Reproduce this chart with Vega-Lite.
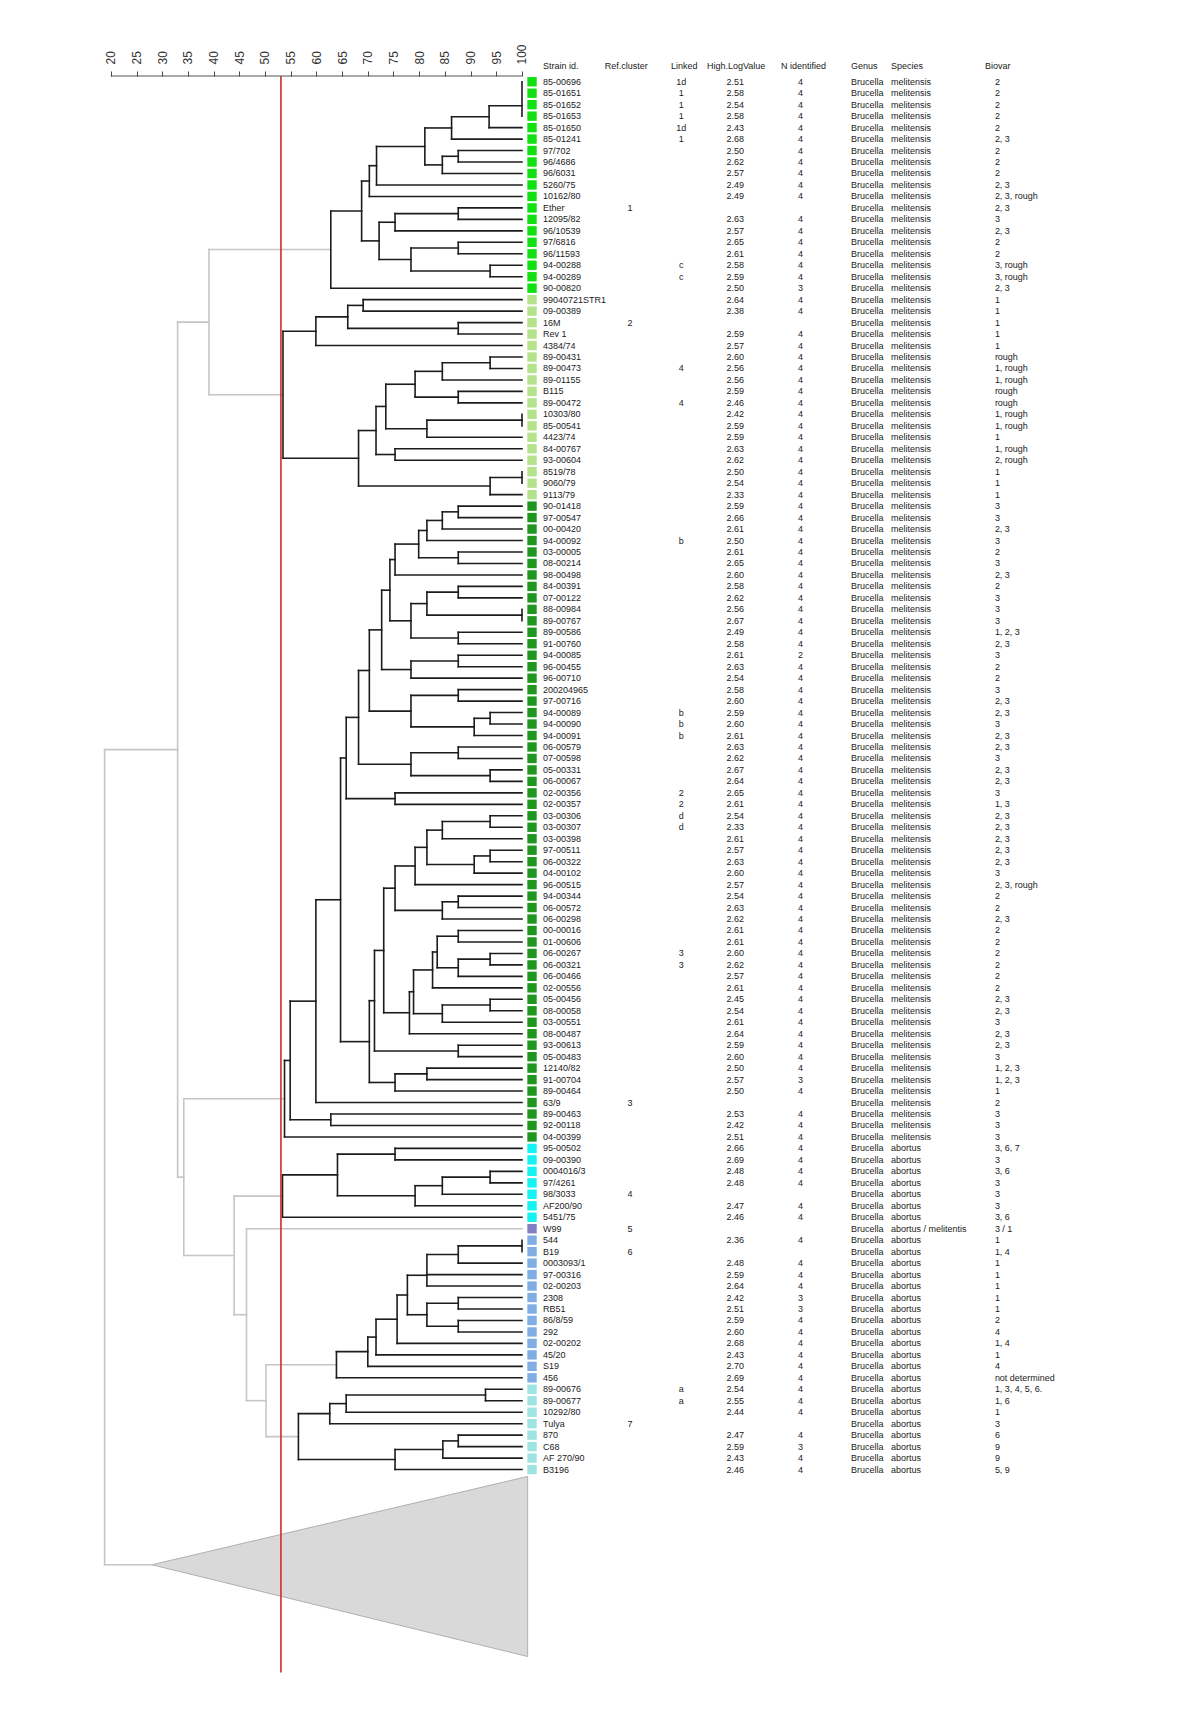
{
"$schema":"https://vega.github.io/schema/vega-lite/v6.json",
"width":1130.8,"height":1611.5,
"autosize":"none",
"padding":{"left":8,"top":76,"right":0,"bottom":0},
"background":"white",
"resolve":{"scale":{"color":"independent"}},
"config":{"view":{"stroke":null},"text":{"font":"Liberation Sans","fontSize":9,"color":"#1a1a1a","baseline":"middle"}},
"datasets":{
"segs":[
{"x":39.1,"x2":62.8,"y":14.63,"y2":14.63,"c":"g"},
{"x":39.1,"x2":39.1,"y":14.63,"y2":27.29,"c":"g"},
{"x":39.1,"x2":53.5,"y":27.29,"y2":27.29,"c":"g"},
{"x":34.2,"x2":53.8,"y":88.67,"y2":88.67,"c":"g"},
{"x":44,"x2":53.4,"y":97.16,"y2":97.16,"c":"g"},
{"x":46.4,"x2":100,"y":100,"y2":100,"c":"g"},
{"x":50.2,"x2":63.9,"y":111.86,"y2":111.86,"c":"g"},
{"x":50.2,"x2":56.5,"y":118.125,"y2":118.125,"c":"g"},
{"x":50.2,"x2":50.2,"y":111.86,"y2":118.125,"c":"g"},
{"x":46.4,"x2":46.4,"y":100,"y2":114.99,"c":"g"},
{"x":46.4,"x2":50.2,"y":114.99,"y2":114.99,"c":"g"},
{"x":44,"x2":44,"y":97.16,"y2":107.5,"c":"g"},
{"x":44,"x2":46.4,"y":107.5,"y2":107.5,"c":"g"},
{"x":34.2,"x2":34.2,"y":88.67,"y2":102.33,"c":"g"},
{"x":34.2,"x2":44,"y":102.33,"y2":102.33,"c":"g"},
{"x":33,"x2":33,"y":20.96,"y2":95.5,"c":"g"},
{"x":33,"x2":39.1,"y":20.96,"y2":20.96,"c":"g"},
{"x":33,"x2":34.2,"y":95.5,"y2":95.5,"c":"g"},
{"x":18.8,"x2":18.8,"y":58.23,"y2":129.3,"c":"g"},
{"x":18.8,"x2":33,"y":58.23,"y2":58.23,"c":"g"},
{"x":18.8,"x2":28,"y":129.3,"y2":129.3,"c":"g"},

{"x":100,"x2":100,"y":0,"y2":3,"c":"k"},
{"x":93.6,"x2":93.6,"y":2.1,"y2":4,"c":"k"},
{"x":93.6,"x2":100,"y":2.1,"y2":2.1,"c":"k"},
{"x":93.6,"x2":100,"y":4,"y2":4,"c":"k"},
{"x":86.3,"x2":86.3,"y":3.05,"y2":5,"c":"k"},
{"x":86.3,"x2":93.6,"y":3.05,"y2":3.05,"c":"k"},
{"x":86.3,"x2":100,"y":5,"y2":5,"c":"k"},
{"x":87.6,"x2":87.6,"y":6,"y2":7,"c":"k"},
{"x":87.6,"x2":100,"y":6,"y2":6,"c":"k"},
{"x":87.6,"x2":100,"y":7,"y2":7,"c":"k"},
{"x":84.5,"x2":84.5,"y":6.5,"y2":8,"c":"k"},
{"x":84.5,"x2":87.6,"y":6.5,"y2":6.5,"c":"k"},
{"x":84.5,"x2":100,"y":8,"y2":8,"c":"k"},
{"x":81.1,"x2":81.1,"y":4.03,"y2":7.25,"c":"k"},
{"x":81.1,"x2":86.3,"y":4.03,"y2":4.03,"c":"k"},
{"x":81.1,"x2":84.5,"y":7.25,"y2":7.25,"c":"k"},
{"x":71.7,"x2":71.7,"y":5.64,"y2":9,"c":"k"},
{"x":71.7,"x2":81.1,"y":5.64,"y2":5.64,"c":"k"},
{"x":71.7,"x2":100,"y":9,"y2":9,"c":"k"},
{"x":70.3,"x2":70.3,"y":7.32,"y2":10,"c":"k"},
{"x":70.3,"x2":71.7,"y":7.32,"y2":7.32,"c":"k"},
{"x":70.3,"x2":100,"y":10,"y2":10,"c":"k"},
{"x":87.6,"x2":87.6,"y":11,"y2":12,"c":"k"},
{"x":87.6,"x2":100,"y":11,"y2":11,"c":"k"},
{"x":87.6,"x2":100,"y":12,"y2":12,"c":"k"},
{"x":75.3,"x2":75.3,"y":11.5,"y2":13,"c":"k"},
{"x":75.3,"x2":87.6,"y":11.5,"y2":11.5,"c":"k"},
{"x":75.3,"x2":100,"y":13,"y2":13,"c":"k"},
{"x":87.6,"x2":87.6,"y":14,"y2":15,"c":"k"},
{"x":87.6,"x2":100,"y":14,"y2":14,"c":"k"},
{"x":87.6,"x2":100,"y":15,"y2":15,"c":"k"},
{"x":93.8,"x2":93.8,"y":16,"y2":17,"c":"k"},
{"x":93.8,"x2":100,"y":16,"y2":16,"c":"k"},
{"x":93.8,"x2":100,"y":17,"y2":17,"c":"k"},
{"x":78.4,"x2":78.4,"y":14.5,"y2":16.5,"c":"k"},
{"x":78.4,"x2":87.6,"y":14.5,"y2":14.5,"c":"k"},
{"x":78.4,"x2":93.8,"y":16.5,"y2":16.5,"c":"k"},
{"x":72.2,"x2":72.2,"y":12.25,"y2":15.5,"c":"k"},
{"x":72.2,"x2":75.3,"y":12.25,"y2":12.25,"c":"k"},
{"x":72.2,"x2":78.4,"y":15.5,"y2":15.5,"c":"k"},
{"x":68.8,"x2":68.8,"y":8.66,"y2":13.875,"c":"k"},
{"x":68.8,"x2":70.3,"y":8.66,"y2":8.66,"c":"k"},
{"x":68.8,"x2":72.2,"y":13.875,"y2":13.875,"c":"k"},
{"x":62.8,"x2":62.8,"y":11.27,"y2":18,"c":"k"},
{"x":62.8,"x2":68.8,"y":11.27,"y2":11.27,"c":"k"},
{"x":62.8,"x2":100,"y":18,"y2":18,"c":"k"},

{"x":69.1,"x2":69.1,"y":19,"y2":20,"c":"k"},
{"x":69.1,"x2":100,"y":19,"y2":19,"c":"k"},
{"x":69.1,"x2":100,"y":20,"y2":20,"c":"k"},
{"x":87.6,"x2":87.6,"y":21,"y2":22,"c":"k"},
{"x":87.6,"x2":100,"y":21,"y2":21,"c":"k"},
{"x":87.6,"x2":100,"y":22,"y2":22,"c":"k"},
{"x":66.1,"x2":66.1,"y":19.5,"y2":21.5,"c":"k"},
{"x":66.1,"x2":69.1,"y":19.5,"y2":19.5,"c":"k"},
{"x":66.1,"x2":87.6,"y":21.5,"y2":21.5,"c":"k"},
{"x":59.9,"x2":59.9,"y":20.5,"y2":23,"c":"k"},
{"x":59.9,"x2":66.1,"y":20.5,"y2":20.5,"c":"k"},
{"x":59.9,"x2":100,"y":23,"y2":23,"c":"k"},
{"x":93.8,"x2":93.8,"y":24,"y2":25,"c":"k"},
{"x":93.8,"x2":100,"y":24,"y2":24,"c":"k"},
{"x":93.8,"x2":100,"y":25,"y2":25,"c":"k"},
{"x":84.5,"x2":84.5,"y":24.5,"y2":26,"c":"k"},
{"x":84.5,"x2":93.8,"y":24.5,"y2":24.5,"c":"k"},
{"x":84.5,"x2":100,"y":26,"y2":26,"c":"k"},
{"x":87.6,"x2":87.6,"y":27,"y2":28,"c":"k"},
{"x":87.6,"x2":100,"y":27,"y2":27,"c":"k"},
{"x":87.6,"x2":100,"y":28,"y2":28,"c":"k"},
{"x":79.2,"x2":79.2,"y":25.25,"y2":27.5,"c":"k"},
{"x":79.2,"x2":84.5,"y":25.25,"y2":25.25,"c":"k"},
{"x":79.2,"x2":87.6,"y":27.5,"y2":27.5,"c":"k"},
{"x":100,"x2":100,"y":29,"y2":30,"c":"k"},
{"x":81.5,"x2":81.5,"y":29.5,"y2":31,"c":"k"},
{"x":81.5,"x2":100,"y":29.5,"y2":29.5,"c":"k"},
{"x":81.5,"x2":100,"y":31,"y2":31,"c":"k"},
{"x":73.5,"x2":73.5,"y":26.375,"y2":30.25,"c":"k"},
{"x":73.5,"x2":79.2,"y":26.375,"y2":26.375,"c":"k"},
{"x":73.5,"x2":81.5,"y":30.25,"y2":30.25,"c":"k"},
{"x":75.3,"x2":75.3,"y":32,"y2":33,"c":"k"},
{"x":75.3,"x2":100,"y":32,"y2":32,"c":"k"},
{"x":75.3,"x2":100,"y":33,"y2":33,"c":"k"},
{"x":71.6,"x2":71.6,"y":28.31,"y2":32.5,"c":"k"},
{"x":71.6,"x2":73.5,"y":28.31,"y2":28.31,"c":"k"},
{"x":71.6,"x2":75.3,"y":32.5,"y2":32.5,"c":"k"},
{"x":100,"x2":100,"y":34,"y2":35,"c":"k"},
{"x":93.8,"x2":93.8,"y":34.5,"y2":36,"c":"k"},
{"x":93.8,"x2":100,"y":34.5,"y2":34.5,"c":"k"},
{"x":93.8,"x2":100,"y":36,"y2":36,"c":"k"},
{"x":68.2,"x2":68.2,"y":30.41,"y2":35.25,"c":"k"},
{"x":68.2,"x2":71.6,"y":30.41,"y2":30.41,"c":"k"},
{"x":68.2,"x2":93.8,"y":35.25,"y2":35.25,"c":"k"},
{"x":53.5,"x2":53.5,"y":21.75,"y2":32.83,"c":"k"},
{"x":53.5,"x2":59.9,"y":21.75,"y2":21.75,"c":"k"},
{"x":53.5,"x2":68.2,"y":32.83,"y2":32.83,"c":"k"},

{"x":87.6,"x2":87.6,"y":37,"y2":38,"c":"k"},
{"x":87.6,"x2":100,"y":37,"y2":37,"c":"k"},
{"x":87.6,"x2":100,"y":38,"y2":38,"c":"k"},
{"x":84.5,"x2":84.5,"y":37.5,"y2":39,"c":"k"},
{"x":84.5,"x2":87.6,"y":37.5,"y2":37.5,"c":"k"},
{"x":84.5,"x2":100,"y":39,"y2":39,"c":"k"},
{"x":81.5,"x2":81.5,"y":38.25,"y2":40,"c":"k"},
{"x":81.5,"x2":84.5,"y":38.25,"y2":38.25,"c":"k"},
{"x":81.5,"x2":100,"y":40,"y2":40,"c":"k"},
{"x":87.6,"x2":87.6,"y":41,"y2":42,"c":"k"},
{"x":87.6,"x2":100,"y":41,"y2":41,"c":"k"},
{"x":87.6,"x2":100,"y":42,"y2":42,"c":"k"},
{"x":79.9,"x2":79.9,"y":39.125,"y2":41.5,"c":"k"},
{"x":79.9,"x2":81.5,"y":39.125,"y2":39.125,"c":"k"},
{"x":79.9,"x2":87.6,"y":41.5,"y2":41.5,"c":"k"},
{"x":75.3,"x2":75.3,"y":40.31,"y2":43,"c":"k"},
{"x":75.3,"x2":79.9,"y":40.31,"y2":40.31,"c":"k"},
{"x":75.3,"x2":100,"y":43,"y2":43,"c":"k"},
{"x":87.6,"x2":87.6,"y":44,"y2":45,"c":"k"},
{"x":87.6,"x2":100,"y":44,"y2":44,"c":"k"},
{"x":87.6,"x2":100,"y":45,"y2":45,"c":"k"},
{"x":100,"x2":100,"y":46,"y2":47,"c":"k"},
{"x":81.5,"x2":81.5,"y":44.5,"y2":46.5,"c":"k"},
{"x":81.5,"x2":87.6,"y":44.5,"y2":44.5,"c":"k"},
{"x":81.5,"x2":100,"y":46.5,"y2":46.5,"c":"k"},
{"x":87.6,"x2":87.6,"y":48,"y2":49,"c":"k"},
{"x":87.6,"x2":100,"y":48,"y2":48,"c":"k"},
{"x":87.6,"x2":100,"y":49,"y2":49,"c":"k"},
{"x":78.4,"x2":78.4,"y":45.5,"y2":48.5,"c":"k"},
{"x":78.4,"x2":81.5,"y":45.5,"y2":45.5,"c":"k"},
{"x":78.4,"x2":87.6,"y":48.5,"y2":48.5,"c":"k"},
{"x":74.3,"x2":74.3,"y":41.66,"y2":47,"c":"k"},
{"x":74.3,"x2":75.3,"y":41.66,"y2":41.66,"c":"k"},
{"x":74.3,"x2":78.4,"y":47,"y2":47,"c":"k"},
{"x":87.6,"x2":87.6,"y":50,"y2":51,"c":"k"},
{"x":87.6,"x2":100,"y":50,"y2":50,"c":"k"},
{"x":87.6,"x2":100,"y":51,"y2":51,"c":"k"},
{"x":78.4,"x2":78.4,"y":50.5,"y2":52,"c":"k"},
{"x":78.4,"x2":87.6,"y":50.5,"y2":50.5,"c":"k"},
{"x":78.4,"x2":100,"y":52,"y2":52,"c":"k"},
{"x":72.7,"x2":72.7,"y":44.33,"y2":51.25,"c":"k"},
{"x":72.7,"x2":74.3,"y":44.33,"y2":44.33,"c":"k"},
{"x":72.7,"x2":78.4,"y":51.25,"y2":51.25,"c":"k"},
{"x":87.6,"x2":87.6,"y":53,"y2":54,"c":"k"},
{"x":87.6,"x2":100,"y":53,"y2":53,"c":"k"},
{"x":87.6,"x2":100,"y":54,"y2":54,"c":"k"},
{"x":93.8,"x2":93.8,"y":55,"y2":56,"c":"k"},
{"x":93.8,"x2":100,"y":55,"y2":55,"c":"k"},
{"x":93.8,"x2":100,"y":56,"y2":56,"c":"k"},
{"x":90.7,"x2":90.7,"y":55.5,"y2":57,"c":"k"},
{"x":90.7,"x2":93.8,"y":55.5,"y2":55.5,"c":"k"},
{"x":90.7,"x2":100,"y":57,"y2":57,"c":"k"},
{"x":78.4,"x2":78.4,"y":53.5,"y2":56.25,"c":"k"},
{"x":78.4,"x2":87.6,"y":53.5,"y2":53.5,"c":"k"},
{"x":78.4,"x2":90.7,"y":56.25,"y2":56.25,"c":"k"},
{"x":70.3,"x2":70.3,"y":47.79,"y2":54.875,"c":"k"},
{"x":70.3,"x2":72.7,"y":47.79,"y2":47.79,"c":"k"},
{"x":70.3,"x2":78.4,"y":54.875,"y2":54.875,"c":"k"},
{"x":87.6,"x2":87.6,"y":58,"y2":59,"c":"k"},
{"x":87.6,"x2":100,"y":58,"y2":58,"c":"k"},
{"x":87.6,"x2":100,"y":59,"y2":59,"c":"k"},
{"x":93.8,"x2":93.8,"y":60,"y2":61,"c":"k"},
{"x":93.8,"x2":100,"y":60,"y2":60,"c":"k"},
{"x":93.8,"x2":100,"y":61,"y2":61,"c":"k"},
{"x":78.4,"x2":78.4,"y":58.5,"y2":60.5,"c":"k"},
{"x":78.4,"x2":87.6,"y":58.5,"y2":58.5,"c":"k"},
{"x":78.4,"x2":93.8,"y":60.5,"y2":60.5,"c":"k"},
{"x":68.2,"x2":68.2,"y":51.33,"y2":59.5,"c":"k"},
{"x":68.2,"x2":70.3,"y":51.33,"y2":51.33,"c":"k"},
{"x":68.2,"x2":78.4,"y":59.5,"y2":59.5,"c":"k"},
{"x":75.3,"x2":75.3,"y":62,"y2":63,"c":"k"},
{"x":75.3,"x2":100,"y":62,"y2":62,"c":"k"},
{"x":75.3,"x2":100,"y":63,"y2":63,"c":"k"},
{"x":65.8,"x2":65.8,"y":55.42,"y2":62.5,"c":"k"},
{"x":65.8,"x2":68.2,"y":55.42,"y2":55.42,"c":"k"},
{"x":65.8,"x2":75.3,"y":62.5,"y2":62.5,"c":"k"},
{"x":93.8,"x2":93.8,"y":64,"y2":65,"c":"k"},
{"x":93.8,"x2":100,"y":64,"y2":64,"c":"k"},
{"x":93.8,"x2":100,"y":65,"y2":65,"c":"k"},
{"x":84.5,"x2":84.5,"y":64.5,"y2":66,"c":"k"},
{"x":84.5,"x2":93.8,"y":64.5,"y2":64.5,"c":"k"},
{"x":84.5,"x2":100,"y":66,"y2":66,"c":"k"},
{"x":93.8,"x2":93.8,"y":67,"y2":68,"c":"k"},
{"x":93.8,"x2":100,"y":67,"y2":67,"c":"k"},
{"x":93.8,"x2":100,"y":68,"y2":68,"c":"k"},
{"x":90.7,"x2":90.7,"y":67.5,"y2":69,"c":"k"},
{"x":90.7,"x2":93.8,"y":67.5,"y2":67.5,"c":"k"},
{"x":90.7,"x2":100,"y":69,"y2":69,"c":"k"},
{"x":81.5,"x2":81.5,"y":65.25,"y2":68.25,"c":"k"},
{"x":81.5,"x2":84.5,"y":65.25,"y2":65.25,"c":"k"},
{"x":81.5,"x2":90.7,"y":68.25,"y2":68.25,"c":"k"},
{"x":79.2,"x2":79.2,"y":66.75,"y2":70,"c":"k"},
{"x":79.2,"x2":81.5,"y":66.75,"y2":66.75,"c":"k"},
{"x":79.2,"x2":100,"y":70,"y2":70,"c":"k"},
{"x":87.6,"x2":87.6,"y":71,"y2":72,"c":"k"},
{"x":87.6,"x2":100,"y":71,"y2":71,"c":"k"},
{"x":87.6,"x2":100,"y":72,"y2":72,"c":"k"},
{"x":84.5,"x2":84.5,"y":71.5,"y2":73,"c":"k"},
{"x":84.5,"x2":87.6,"y":71.5,"y2":71.5,"c":"k"},
{"x":84.5,"x2":100,"y":73,"y2":73,"c":"k"},
{"x":75.3,"x2":75.3,"y":68.375,"y2":72.25,"c":"k"},
{"x":75.3,"x2":79.2,"y":68.375,"y2":68.375,"c":"k"},
{"x":75.3,"x2":84.5,"y":72.25,"y2":72.25,"c":"k"},
{"x":87.6,"x2":87.6,"y":74,"y2":75,"c":"k"},
{"x":87.6,"x2":100,"y":74,"y2":74,"c":"k"},
{"x":87.6,"x2":100,"y":75,"y2":75,"c":"k"},
{"x":93.8,"x2":93.8,"y":76,"y2":77,"c":"k"},
{"x":93.8,"x2":100,"y":76,"y2":76,"c":"k"},
{"x":93.8,"x2":100,"y":77,"y2":77,"c":"k"},
{"x":87.6,"x2":87.6,"y":76.5,"y2":78,"c":"k"},
{"x":87.6,"x2":93.8,"y":76.5,"y2":76.5,"c":"k"},
{"x":87.6,"x2":100,"y":78,"y2":78,"c":"k"},
{"x":83.5,"x2":83.5,"y":74.5,"y2":77.25,"c":"k"},
{"x":83.5,"x2":87.6,"y":74.5,"y2":74.5,"c":"k"},
{"x":83.5,"x2":87.6,"y":77.25,"y2":77.25,"c":"k"},
{"x":82.6,"x2":82.6,"y":75.875,"y2":79,"c":"k"},
{"x":82.6,"x2":83.5,"y":75.875,"y2":75.875,"c":"k"},
{"x":82.6,"x2":100,"y":79,"y2":79,"c":"k"},
{"x":93.8,"x2":93.8,"y":80,"y2":81,"c":"k"},
{"x":93.8,"x2":100,"y":80,"y2":80,"c":"k"},
{"x":93.8,"x2":100,"y":81,"y2":81,"c":"k"},
{"x":84.5,"x2":84.5,"y":80.5,"y2":82,"c":"k"},
{"x":84.5,"x2":93.8,"y":80.5,"y2":80.5,"c":"k"},
{"x":84.5,"x2":100,"y":82,"y2":82,"c":"k"},
{"x":78.9,"x2":78.9,"y":77.44,"y2":81.25,"c":"k"},
{"x":78.9,"x2":82.6,"y":77.44,"y2":77.44,"c":"k"},
{"x":78.9,"x2":84.5,"y":81.25,"y2":81.25,"c":"k"},
{"x":78.1,"x2":78.1,"y":79.34,"y2":83,"c":"k"},
{"x":78.1,"x2":78.9,"y":79.34,"y2":79.34,"c":"k"},
{"x":78.1,"x2":100,"y":83,"y2":83,"c":"k"},
{"x":73.1,"x2":73.1,"y":70.31,"y2":81.17,"c":"k"},
{"x":73.1,"x2":75.3,"y":70.31,"y2":70.31,"c":"k"},
{"x":73.1,"x2":78.1,"y":81.17,"y2":81.17,"c":"k"},
{"x":87.6,"x2":87.6,"y":84,"y2":85,"c":"k"},
{"x":87.6,"x2":100,"y":84,"y2":84,"c":"k"},
{"x":87.6,"x2":100,"y":85,"y2":85,"c":"k"},
{"x":71.3,"x2":71.3,"y":75.74,"y2":84.5,"c":"k"},
{"x":71.3,"x2":73.1,"y":75.74,"y2":75.74,"c":"k"},
{"x":71.3,"x2":87.6,"y":84.5,"y2":84.5,"c":"k"},
{"x":81.5,"x2":81.5,"y":86,"y2":87,"c":"k"},
{"x":81.5,"x2":100,"y":86,"y2":86,"c":"k"},
{"x":81.5,"x2":100,"y":87,"y2":87,"c":"k"},
{"x":75.3,"x2":75.3,"y":86.5,"y2":88,"c":"k"},
{"x":75.3,"x2":81.5,"y":86.5,"y2":86.5,"c":"k"},
{"x":75.3,"x2":100,"y":88,"y2":88,"c":"k"},
{"x":70.3,"x2":70.3,"y":80.12,"y2":87.25,"c":"k"},
{"x":70.3,"x2":71.3,"y":80.12,"y2":80.12,"c":"k"},
{"x":70.3,"x2":75.3,"y":87.25,"y2":87.25,"c":"k"},
{"x":64.7,"x2":64.7,"y":58.96,"y2":83.69,"c":"k"},
{"x":64.7,"x2":65.8,"y":58.96,"y2":58.96,"c":"k"},
{"x":64.7,"x2":70.3,"y":83.69,"y2":83.69,"c":"k"},
{"x":59.9,"x2":59.9,"y":71.32,"y2":89,"c":"k"},
{"x":59.9,"x2":64.7,"y":71.32,"y2":71.32,"c":"k"},
{"x":59.9,"x2":100,"y":89,"y2":89,"c":"k"},
{"x":62.8,"x2":62.8,"y":90,"y2":91,"c":"k"},
{"x":62.8,"x2":100,"y":90,"y2":90,"c":"k"},
{"x":62.8,"x2":100,"y":91,"y2":91,"c":"k"},
{"x":54.9,"x2":54.9,"y":80.16,"y2":90.5,"c":"k"},
{"x":54.9,"x2":59.9,"y":80.16,"y2":80.16,"c":"k"},
{"x":54.9,"x2":62.8,"y":90.5,"y2":90.5,"c":"k"},
{"x":53.8,"x2":53.8,"y":85.33,"y2":92,"c":"k"},
{"x":53.8,"x2":54.9,"y":85.33,"y2":85.33,"c":"k"},
{"x":53.8,"x2":100,"y":92,"y2":92,"c":"k"},

{"x":75.3,"x2":75.3,"y":93,"y2":94,"c":"k"},
{"x":75.3,"x2":100,"y":93,"y2":93,"c":"k"},
{"x":75.3,"x2":100,"y":94,"y2":94,"c":"k"},
{"x":93.8,"x2":93.8,"y":95,"y2":96,"c":"k"},
{"x":93.8,"x2":100,"y":95,"y2":95,"c":"k"},
{"x":93.8,"x2":100,"y":96,"y2":96,"c":"k"},
{"x":84.5,"x2":84.5,"y":95.5,"y2":97,"c":"k"},
{"x":84.5,"x2":93.8,"y":95.5,"y2":95.5,"c":"k"},
{"x":84.5,"x2":100,"y":97,"y2":97,"c":"k"},
{"x":79.2,"x2":79.2,"y":96.25,"y2":98,"c":"k"},
{"x":79.2,"x2":84.5,"y":96.25,"y2":96.25,"c":"k"},
{"x":79.2,"x2":100,"y":98,"y2":98,"c":"k"},
{"x":64.1,"x2":64.1,"y":93.5,"y2":97.125,"c":"k"},
{"x":64.1,"x2":75.3,"y":93.5,"y2":93.5,"c":"k"},
{"x":64.1,"x2":79.2,"y":97.125,"y2":97.125,"c":"k"},
{"x":53.4,"x2":53.4,"y":95.31,"y2":99,"c":"k"},
{"x":53.4,"x2":64.1,"y":95.31,"y2":95.31,"c":"k"},
{"x":53.4,"x2":100,"y":99,"y2":99,"c":"k"},

{"x":100,"x2":100,"y":101,"y2":102,"c":"k"},
{"x":87.6,"x2":87.6,"y":101.5,"y2":103,"c":"k"},
{"x":87.6,"x2":100,"y":101.5,"y2":101.5,"c":"k"},
{"x":87.6,"x2":100,"y":103,"y2":103,"c":"k"},
{"x":81.5,"x2":81.5,"y":102.25,"y2":105,"c":"k"},
{"x":81.5,"x2":87.6,"y":102.25,"y2":102.25,"c":"k"},
{"x":81.5,"x2":100,"y":104,"y2":104,"c":"k"},
{"x":81.5,"x2":100,"y":105,"y2":105,"c":"k"},
{"x":87.6,"x2":87.6,"y":106,"y2":107,"c":"k"},
{"x":87.6,"x2":100,"y":106,"y2":106,"c":"k"},
{"x":87.6,"x2":100,"y":107,"y2":107,"c":"k"},
{"x":87.6,"x2":87.6,"y":108,"y2":109,"c":"k"},
{"x":87.6,"x2":100,"y":108,"y2":108,"c":"k"},
{"x":87.6,"x2":100,"y":109,"y2":109,"c":"k"},
{"x":81.5,"x2":81.5,"y":106.5,"y2":108.5,"c":"k"},
{"x":81.5,"x2":87.6,"y":106.5,"y2":106.5,"c":"k"},
{"x":81.5,"x2":87.6,"y":108.5,"y2":108.5,"c":"k"},
{"x":77.7,"x2":77.7,"y":104.06,"y2":107.5,"c":"k"},
{"x":77.7,"x2":81.5,"y":104.06,"y2":104.06,"c":"k"},
{"x":77.7,"x2":81.5,"y":107.5,"y2":107.5,"c":"k"},
{"x":75.7,"x2":75.7,"y":105.78,"y2":110,"c":"k"},
{"x":75.7,"x2":77.7,"y":105.78,"y2":105.78,"c":"k"},
{"x":75.7,"x2":100,"y":110,"y2":110,"c":"k"},
{"x":71.6,"x2":71.6,"y":107.89,"y2":111,"c":"k"},
{"x":71.6,"x2":75.7,"y":107.89,"y2":107.89,"c":"k"},
{"x":71.6,"x2":100,"y":111,"y2":111,"c":"k"},
{"x":70,"x2":70,"y":109.45,"y2":112,"c":"k"},
{"x":70,"x2":71.6,"y":109.45,"y2":109.45,"c":"k"},
{"x":70,"x2":100,"y":112,"y2":112,"c":"k"},
{"x":63.9,"x2":63.9,"y":110.72,"y2":113,"c":"k"},
{"x":63.9,"x2":70,"y":110.72,"y2":110.72,"c":"k"},
{"x":63.9,"x2":100,"y":113,"y2":113,"c":"k"},

{"x":92.9,"x2":92.9,"y":114,"y2":115,"c":"k"},
{"x":92.9,"x2":100,"y":114,"y2":114,"c":"k"},
{"x":92.9,"x2":100,"y":115,"y2":115,"c":"k"},
{"x":65.8,"x2":65.8,"y":114.5,"y2":116,"c":"k"},
{"x":65.8,"x2":92.9,"y":114.5,"y2":114.5,"c":"k"},
{"x":65.8,"x2":100,"y":116,"y2":116,"c":"k"},
{"x":62.6,"x2":62.6,"y":115.25,"y2":117,"c":"k"},
{"x":62.6,"x2":65.8,"y":115.25,"y2":115.25,"c":"k"},
{"x":62.6,"x2":100,"y":117,"y2":117,"c":"k"},
{"x":87.6,"x2":87.6,"y":118,"y2":119,"c":"k"},
{"x":87.6,"x2":100,"y":118,"y2":118,"c":"k"},
{"x":87.6,"x2":100,"y":119,"y2":119,"c":"k"},
{"x":84.6,"x2":84.6,"y":118.5,"y2":120,"c":"k"},
{"x":84.6,"x2":87.6,"y":118.5,"y2":118.5,"c":"k"},
{"x":84.6,"x2":100,"y":120,"y2":120,"c":"k"},
{"x":75.3,"x2":75.3,"y":119.25,"y2":121,"c":"k"},
{"x":75.3,"x2":84.6,"y":119.25,"y2":119.25,"c":"k"},
{"x":75.3,"x2":100,"y":121,"y2":121,"c":"k"},
{"x":56.5,"x2":56.5,"y":116.125,"y2":120.125,"c":"k"},
{"x":56.5,"x2":62.6,"y":116.125,"y2":116.125,"c":"k"},
{"x":56.5,"x2":75.3,"y":120.125,"y2":120.125,"c":"k"}
],
"rows":[
{"r":0,"id":"85-00696","rc":"","lk":"1d","hv":"2.51","n":"4","ge":"Brucella","sp":"melitensis","bv":"2","g":"m1"},
{"r":1,"id":"85-01651","rc":"","lk":"1","hv":"2.58","n":"4","ge":"Brucella","sp":"melitensis","bv":"2","g":"m1"},
{"r":2,"id":"85-01652","rc":"","lk":"1","hv":"2.54","n":"4","ge":"Brucella","sp":"melitensis","bv":"2","g":"m1"},
{"r":3,"id":"85-01653","rc":"","lk":"1","hv":"2.58","n":"4","ge":"Brucella","sp":"melitensis","bv":"2","g":"m1"},
{"r":4,"id":"85-01650","rc":"","lk":"1d","hv":"2.43","n":"4","ge":"Brucella","sp":"melitensis","bv":"2","g":"m1"},
{"r":5,"id":"85-01241","rc":"","lk":"1","hv":"2.68","n":"4","ge":"Brucella","sp":"melitensis","bv":"2, 3","g":"m1"},
{"r":6,"id":"97/702","rc":"","lk":"","hv":"2.50","n":"4","ge":"Brucella","sp":"melitensis","bv":"2","g":"m1"},
{"r":7,"id":"96/4686","rc":"","lk":"","hv":"2.62","n":"4","ge":"Brucella","sp":"melitensis","bv":"2","g":"m1"},
{"r":8,"id":"96/6031","rc":"","lk":"","hv":"2.57","n":"4","ge":"Brucella","sp":"melitensis","bv":"2","g":"m1"},
{"r":9,"id":"5260/75","rc":"","lk":"","hv":"2.49","n":"4","ge":"Brucella","sp":"melitensis","bv":"2, 3","g":"m1"},
{"r":10,"id":"10162/80","rc":"","lk":"","hv":"2.49","n":"4","ge":"Brucella","sp":"melitensis","bv":"2, 3, rough","g":"m1"},
{"r":11,"id":"Ether","rc":"1","lk":"","hv":"","n":"","ge":"Brucella","sp":"melitensis","bv":"2, 3","g":"m1"},
{"r":12,"id":"12095/82","rc":"","lk":"","hv":"2.63","n":"4","ge":"Brucella","sp":"melitensis","bv":"3","g":"m1"},
{"r":13,"id":"96/10539","rc":"","lk":"","hv":"2.57","n":"4","ge":"Brucella","sp":"melitensis","bv":"2, 3","g":"m1"},
{"r":14,"id":"97/6816","rc":"","lk":"","hv":"2.65","n":"4","ge":"Brucella","sp":"melitensis","bv":"2","g":"m1"},
{"r":15,"id":"96/11593","rc":"","lk":"","hv":"2.61","n":"4","ge":"Brucella","sp":"melitensis","bv":"2","g":"m1"},
{"r":16,"id":"94-00288","rc":"","lk":"c","hv":"2.58","n":"4","ge":"Brucella","sp":"melitensis","bv":"3, rough","g":"m1"},
{"r":17,"id":"94-00289","rc":"","lk":"c","hv":"2.59","n":"4","ge":"Brucella","sp":"melitensis","bv":"3, rough","g":"m1"},
{"r":18,"id":"90-00820","rc":"","lk":"","hv":"2.50","n":"3","ge":"Brucella","sp":"melitensis","bv":"2, 3","g":"m1"},
{"r":19,"id":"99040721STR1","rc":"","lk":"","hv":"2.64","n":"4","ge":"Brucella","sp":"melitensis","bv":"1","g":"m2"},
{"r":20,"id":"09-00389","rc":"","lk":"","hv":"2.38","n":"4","ge":"Brucella","sp":"melitensis","bv":"1","g":"m2"},
{"r":21,"id":"16M","rc":"2","lk":"","hv":"","n":"","ge":"Brucella","sp":"melitensis","bv":"1","g":"m2"},
{"r":22,"id":"Rev 1","rc":"","lk":"","hv":"2.59","n":"4","ge":"Brucella","sp":"melitensis","bv":"1","g":"m2"},
{"r":23,"id":"4384/74","rc":"","lk":"","hv":"2.57","n":"4","ge":"Brucella","sp":"melitensis","bv":"1","g":"m2"},
{"r":24,"id":"89-00431","rc":"","lk":"","hv":"2.60","n":"4","ge":"Brucella","sp":"melitensis","bv":"rough","g":"m2"},
{"r":25,"id":"89-00473","rc":"","lk":"4","hv":"2.56","n":"4","ge":"Brucella","sp":"melitensis","bv":"1, rough","g":"m2"},
{"r":26,"id":"89-01155","rc":"","lk":"","hv":"2.56","n":"4","ge":"Brucella","sp":"melitensis","bv":"1, rough","g":"m2"},
{"r":27,"id":"B115","rc":"","lk":"","hv":"2.59","n":"4","ge":"Brucella","sp":"melitensis","bv":"rough","g":"m2"},
{"r":28,"id":"89-00472","rc":"","lk":"4","hv":"2.46","n":"4","ge":"Brucella","sp":"melitensis","bv":"rough","g":"m2"},
{"r":29,"id":"10303/80","rc":"","lk":"","hv":"2.42","n":"4","ge":"Brucella","sp":"melitensis","bv":"1, rough","g":"m2"},
{"r":30,"id":"85-00541","rc":"","lk":"","hv":"2.59","n":"4","ge":"Brucella","sp":"melitensis","bv":"1, rough","g":"m2"},
{"r":31,"id":"4423/74","rc":"","lk":"","hv":"2.59","n":"4","ge":"Brucella","sp":"melitensis","bv":"1","g":"m2"},
{"r":32,"id":"84-00767","rc":"","lk":"","hv":"2.63","n":"4","ge":"Brucella","sp":"melitensis","bv":"1, rough","g":"m2"},
{"r":33,"id":"93-00604","rc":"","lk":"","hv":"2.62","n":"4","ge":"Brucella","sp":"melitensis","bv":"2, rough","g":"m2"},
{"r":34,"id":"8519/78","rc":"","lk":"","hv":"2.50","n":"4","ge":"Brucella","sp":"melitensis","bv":"1","g":"m2"},
{"r":35,"id":"9060/79","rc":"","lk":"","hv":"2.54","n":"4","ge":"Brucella","sp":"melitensis","bv":"1","g":"m2"},
{"r":36,"id":"9113/79","rc":"","lk":"","hv":"2.33","n":"4","ge":"Brucella","sp":"melitensis","bv":"1","g":"m2"},
{"r":37,"id":"90-01418","rc":"","lk":"","hv":"2.59","n":"4","ge":"Brucella","sp":"melitensis","bv":"3","g":"m3"},
{"r":38,"id":"97-00547","rc":"","lk":"","hv":"2.66","n":"4","ge":"Brucella","sp":"melitensis","bv":"3","g":"m3"},
{"r":39,"id":"00-00420","rc":"","lk":"","hv":"2.61","n":"4","ge":"Brucella","sp":"melitensis","bv":"2, 3","g":"m3"},
{"r":40,"id":"94-00092","rc":"","lk":"b","hv":"2.50","n":"4","ge":"Brucella","sp":"melitensis","bv":"3","g":"m3"},
{"r":41,"id":"03-00005","rc":"","lk":"","hv":"2.61","n":"4","ge":"Brucella","sp":"melitensis","bv":"2","g":"m3"},
{"r":42,"id":"08-00214","rc":"","lk":"","hv":"2.65","n":"4","ge":"Brucella","sp":"melitensis","bv":"3","g":"m3"},
{"r":43,"id":"98-00498","rc":"","lk":"","hv":"2.60","n":"4","ge":"Brucella","sp":"melitensis","bv":"2, 3","g":"m3"},
{"r":44,"id":"84-00391","rc":"","lk":"","hv":"2.58","n":"4","ge":"Brucella","sp":"melitensis","bv":"2","g":"m3"},
{"r":45,"id":"07-00122","rc":"","lk":"","hv":"2.62","n":"4","ge":"Brucella","sp":"melitensis","bv":"3","g":"m3"},
{"r":46,"id":"88-00984","rc":"","lk":"","hv":"2.56","n":"4","ge":"Brucella","sp":"melitensis","bv":"3","g":"m3"},
{"r":47,"id":"89-00767","rc":"","lk":"","hv":"2.67","n":"4","ge":"Brucella","sp":"melitensis","bv":"3","g":"m3"},
{"r":48,"id":"89-00586","rc":"","lk":"","hv":"2.49","n":"4","ge":"Brucella","sp":"melitensis","bv":"1, 2, 3","g":"m3"},
{"r":49,"id":"91-00760","rc":"","lk":"","hv":"2.58","n":"4","ge":"Brucella","sp":"melitensis","bv":"2, 3","g":"m3"},
{"r":50,"id":"94-00085","rc":"","lk":"","hv":"2.61","n":"2","ge":"Brucella","sp":"melitensis","bv":"3","g":"m3"},
{"r":51,"id":"96-00455","rc":"","lk":"","hv":"2.63","n":"4","ge":"Brucella","sp":"melitensis","bv":"2","g":"m3"},
{"r":52,"id":"96-00710","rc":"","lk":"","hv":"2.54","n":"4","ge":"Brucella","sp":"melitensis","bv":"2","g":"m3"},
{"r":53,"id":"200204965","rc":"","lk":"","hv":"2.58","n":"4","ge":"Brucella","sp":"melitensis","bv":"3","g":"m3"},
{"r":54,"id":"97-00716","rc":"","lk":"","hv":"2.60","n":"4","ge":"Brucella","sp":"melitensis","bv":"2, 3","g":"m3"},
{"r":55,"id":"94-00089","rc":"","lk":"b","hv":"2.59","n":"4","ge":"Brucella","sp":"melitensis","bv":"2, 3","g":"m3"},
{"r":56,"id":"94-00090","rc":"","lk":"b","hv":"2.60","n":"4","ge":"Brucella","sp":"melitensis","bv":"3","g":"m3"},
{"r":57,"id":"94-00091","rc":"","lk":"b","hv":"2.61","n":"4","ge":"Brucella","sp":"melitensis","bv":"2, 3","g":"m3"},
{"r":58,"id":"06-00579","rc":"","lk":"","hv":"2.63","n":"4","ge":"Brucella","sp":"melitensis","bv":"2, 3","g":"m3"},
{"r":59,"id":"07-00598","rc":"","lk":"","hv":"2.62","n":"4","ge":"Brucella","sp":"melitensis","bv":"3","g":"m3"},
{"r":60,"id":"05-00331","rc":"","lk":"","hv":"2.67","n":"4","ge":"Brucella","sp":"melitensis","bv":"2, 3","g":"m3"},
{"r":61,"id":"06-00067","rc":"","lk":"","hv":"2.64","n":"4","ge":"Brucella","sp":"melitensis","bv":"2, 3","g":"m3"},
{"r":62,"id":"02-00356","rc":"","lk":"2","hv":"2.65","n":"4","ge":"Brucella","sp":"melitensis","bv":"3","g":"m3"},
{"r":63,"id":"02-00357","rc":"","lk":"2","hv":"2.61","n":"4","ge":"Brucella","sp":"melitensis","bv":"1, 3","g":"m3"},
{"r":64,"id":"03-00306","rc":"","lk":"d","hv":"2.54","n":"4","ge":"Brucella","sp":"melitensis","bv":"2, 3","g":"m3"},
{"r":65,"id":"03-00307","rc":"","lk":"d","hv":"2.33","n":"4","ge":"Brucella","sp":"melitensis","bv":"2, 3","g":"m3"},
{"r":66,"id":"03-00398","rc":"","lk":"","hv":"2.61","n":"4","ge":"Brucella","sp":"melitensis","bv":"2, 3","g":"m3"},
{"r":67,"id":"97-00511","rc":"","lk":"","hv":"2.57","n":"4","ge":"Brucella","sp":"melitensis","bv":"2, 3","g":"m3"},
{"r":68,"id":"06-00322","rc":"","lk":"","hv":"2.63","n":"4","ge":"Brucella","sp":"melitensis","bv":"2, 3","g":"m3"},
{"r":69,"id":"04-00102","rc":"","lk":"","hv":"2.60","n":"4","ge":"Brucella","sp":"melitensis","bv":"3","g":"m3"},
{"r":70,"id":"96-00515","rc":"","lk":"","hv":"2.57","n":"4","ge":"Brucella","sp":"melitensis","bv":"2, 3, rough","g":"m3"},
{"r":71,"id":"94-00344","rc":"","lk":"","hv":"2.54","n":"4","ge":"Brucella","sp":"melitensis","bv":"2","g":"m3"},
{"r":72,"id":"06-00572","rc":"","lk":"","hv":"2.63","n":"4","ge":"Brucella","sp":"melitensis","bv":"2","g":"m3"},
{"r":73,"id":"06-00298","rc":"","lk":"","hv":"2.62","n":"4","ge":"Brucella","sp":"melitensis","bv":"2, 3","g":"m3"},
{"r":74,"id":"00-00016","rc":"","lk":"","hv":"2.61","n":"4","ge":"Brucella","sp":"melitensis","bv":"2","g":"m3"},
{"r":75,"id":"01-00606","rc":"","lk":"","hv":"2.61","n":"4","ge":"Brucella","sp":"melitensis","bv":"2","g":"m3"},
{"r":76,"id":"06-00267","rc":"","lk":"3","hv":"2.60","n":"4","ge":"Brucella","sp":"melitensis","bv":"2","g":"m3"},
{"r":77,"id":"06-00321","rc":"","lk":"3","hv":"2.62","n":"4","ge":"Brucella","sp":"melitensis","bv":"2","g":"m3"},
{"r":78,"id":"06-00466","rc":"","lk":"","hv":"2.57","n":"4","ge":"Brucella","sp":"melitensis","bv":"2","g":"m3"},
{"r":79,"id":"02-00556","rc":"","lk":"","hv":"2.61","n":"4","ge":"Brucella","sp":"melitensis","bv":"2","g":"m3"},
{"r":80,"id":"05-00456","rc":"","lk":"","hv":"2.45","n":"4","ge":"Brucella","sp":"melitensis","bv":"2, 3","g":"m3"},
{"r":81,"id":"08-00058","rc":"","lk":"","hv":"2.54","n":"4","ge":"Brucella","sp":"melitensis","bv":"2, 3","g":"m3"},
{"r":82,"id":"03-00551","rc":"","lk":"","hv":"2.61","n":"4","ge":"Brucella","sp":"melitensis","bv":"3","g":"m3"},
{"r":83,"id":"08-00487","rc":"","lk":"","hv":"2.64","n":"4","ge":"Brucella","sp":"melitensis","bv":"2, 3","g":"m3"},
{"r":84,"id":"93-00613","rc":"","lk":"","hv":"2.59","n":"4","ge":"Brucella","sp":"melitensis","bv":"2, 3","g":"m3"},
{"r":85,"id":"05-00483","rc":"","lk":"","hv":"2.60","n":"4","ge":"Brucella","sp":"melitensis","bv":"3","g":"m3"},
{"r":86,"id":"12140/82","rc":"","lk":"","hv":"2.50","n":"4","ge":"Brucella","sp":"melitensis","bv":"1, 2, 3","g":"m3"},
{"r":87,"id":"91-00704","rc":"","lk":"","hv":"2.57","n":"3","ge":"Brucella","sp":"melitensis","bv":"1, 2, 3","g":"m3"},
{"r":88,"id":"89-00464","rc":"","lk":"","hv":"2.50","n":"4","ge":"Brucella","sp":"melitensis","bv":"1","g":"m3"},
{"r":89,"id":"63/9","rc":"3","lk":"","hv":"","n":"","ge":"Brucella","sp":"melitensis","bv":"2","g":"m3"},
{"r":90,"id":"89-00463","rc":"","lk":"","hv":"2.53","n":"4","ge":"Brucella","sp":"melitensis","bv":"3","g":"m3"},
{"r":91,"id":"92-00118","rc":"","lk":"","hv":"2.42","n":"4","ge":"Brucella","sp":"melitensis","bv":"3","g":"m3"},
{"r":92,"id":"04-00399","rc":"","lk":"","hv":"2.51","n":"4","ge":"Brucella","sp":"melitensis","bv":"3","g":"m3"},
{"r":93,"id":"95-00502","rc":"","lk":"","hv":"2.66","n":"4","ge":"Brucella","sp":"abortus","bv":"3, 6, 7","g":"a1"},
{"r":94,"id":"09-00390","rc":"","lk":"","hv":"2.69","n":"4","ge":"Brucella","sp":"abortus","bv":"3","g":"a1"},
{"r":95,"id":"0004016/3","rc":"","lk":"","hv":"2.48","n":"4","ge":"Brucella","sp":"abortus","bv":"3, 6","g":"a1"},
{"r":96,"id":"97/4261","rc":"","lk":"","hv":"2.48","n":"4","ge":"Brucella","sp":"abortus","bv":"3","g":"a1"},
{"r":97,"id":"98/3033","rc":"4","lk":"","hv":"","n":"","ge":"Brucella","sp":"abortus","bv":"3","g":"a1"},
{"r":98,"id":"AF200/90","rc":"","lk":"","hv":"2.47","n":"4","ge":"Brucella","sp":"abortus","bv":"3","g":"a1"},
{"r":99,"id":"5451/75","rc":"","lk":"","hv":"2.46","n":"4","ge":"Brucella","sp":"abortus","bv":"3, 6","g":"a1"},
{"r":100,"id":"W99","rc":"5","lk":"","hv":"","n":"","ge":"Brucella","sp":"abortus / melitentis","bv":"3 / 1","g":"w"},
{"r":101,"id":"544","rc":"","lk":"","hv":"2.36","n":"4","ge":"Brucella","sp":"abortus","bv":"1","g":"a2"},
{"r":102,"id":"B19","rc":"6","lk":"","hv":"","n":"","ge":"Brucella","sp":"abortus","bv":"1, 4","g":"a2"},
{"r":103,"id":"0003093/1","rc":"","lk":"","hv":"2.48","n":"4","ge":"Brucella","sp":"abortus","bv":"1","g":"a2"},
{"r":104,"id":"97-00316","rc":"","lk":"","hv":"2.59","n":"4","ge":"Brucella","sp":"abortus","bv":"1","g":"a2"},
{"r":105,"id":"02-00203","rc":"","lk":"","hv":"2.64","n":"4","ge":"Brucella","sp":"abortus","bv":"1","g":"a2"},
{"r":106,"id":"2308","rc":"","lk":"","hv":"2.42","n":"3","ge":"Brucella","sp":"abortus","bv":"1","g":"a2"},
{"r":107,"id":"RB51","rc":"","lk":"","hv":"2.51","n":"3","ge":"Brucella","sp":"abortus","bv":"1","g":"a2"},
{"r":108,"id":"86/8/59","rc":"","lk":"","hv":"2.59","n":"4","ge":"Brucella","sp":"abortus","bv":"2","g":"a2"},
{"r":109,"id":"292","rc":"","lk":"","hv":"2.60","n":"4","ge":"Brucella","sp":"abortus","bv":"4","g":"a2"},
{"r":110,"id":"02-00202","rc":"","lk":"","hv":"2.68","n":"4","ge":"Brucella","sp":"abortus","bv":"1, 4","g":"a2"},
{"r":111,"id":"45/20","rc":"","lk":"","hv":"2.43","n":"4","ge":"Brucella","sp":"abortus","bv":"1","g":"a2"},
{"r":112,"id":"S19","rc":"","lk":"","hv":"2.70","n":"4","ge":"Brucella","sp":"abortus","bv":"4","g":"a2"},
{"r":113,"id":"456","rc":"","lk":"","hv":"2.69","n":"4","ge":"Brucella","sp":"abortus","bv":"not determined","g":"a2"},
{"r":114,"id":"89-00676","rc":"","lk":"a","hv":"2.54","n":"4","ge":"Brucella","sp":"abortus","bv":"1, 3, 4, 5, 6.","g":"a3"},
{"r":115,"id":"89-00677","rc":"","lk":"a","hv":"2.55","n":"4","ge":"Brucella","sp":"abortus","bv":"1, 6","g":"a3"},
{"r":116,"id":"10292/80","rc":"","lk":"","hv":"2.44","n":"4","ge":"Brucella","sp":"abortus","bv":"1","g":"a3"},
{"r":117,"id":"Tulya","rc":"7","lk":"","hv":"","n":"","ge":"Brucella","sp":"abortus","bv":"3","g":"a3"},
{"r":118,"id":"870","rc":"","lk":"","hv":"2.47","n":"4","ge":"Brucella","sp":"abortus","bv":"6","g":"a3"},
{"r":119,"id":"C68","rc":"","lk":"","hv":"2.59","n":"3","ge":"Brucella","sp":"abortus","bv":"9","g":"a3"},
{"r":120,"id":"AF 270/90","rc":"","lk":"","hv":"2.43","n":"4","ge":"Brucella","sp":"abortus","bv":"9","g":"a3"},
{"r":121,"id":"B3196","rc":"","lk":"","hv":"2.46","n":"4","ge":"Brucella","sp":"abortus","bv":"5, 9","g":"a3"}
],
"tri":[{"x":28,"y":129.3,"y2":129.3},{"x":101.1,"y":121.6,"y2":137.3}]
},
"layer":[
{"data":{"name":"tri"},
 "mark":{"type":"area","orient":"vertical","fill":"#d9d9d9","stroke":"#b0b0b0","strokeWidth":1},
 "encoding":{"x":{"field":"x","type":"quantitative","title":null},"y":{"field":"y","type":"quantitative","title":null},"y2":{"field":"y2"}}},
{"data":{"name":"segs"},
 "mark":{"type":"rule","strokeWidth":1.6,"strokeCap":"square"},
 "encoding":{
  "x":{"field":"x","type":"quantitative","title":null,"scale":{"domain":[0,220],"nice":false,"zero":false},
   "axis":{"orient":"top","values":[20,25,30,35,40,45,50,55,60,65,70,75,80,85,90,95,100],"domain":false,"grid":false,"labelAngle":-90,"labelAlign":"left","labelBaseline":"middle","tickSize":5,"labelPadding":7,"labelFontSize":12,"labelFont":"Liberation Sans","labelColor":"#333","tickColor":"#444","labelFlush":false,"labelOverlap":false}},
  "x2":{"field":"x2"},
  "y":{"field":"y","type":"quantitative","title":null,"scale":{"domain":[-0.5,140],"reverse":true,"nice":false,"zero":false},"axis":null},
  "y2":{"field":"y2"},
  "color":{"field":"c","type":"nominal","scale":{"domain":["k","g"],"range":["#1c1c1c","#c6c6c6"]},"legend":null}}},
{"data":{"values":[{"cutoff":53.1}]},
 "mark":{"type":"rule","color":"#d42a2a","strokeWidth":1.6},
 "encoding":{"x":{"field":"cutoff","type":"quantitative","title":null},"y":{"datum":-0.5},"y2":{"datum":138.7}}},
{"data":{"values":[{}]},
 "mark":{"type":"rule","color":"#555555","strokeWidth":1},
 "encoding":{"x":{"datum":20},"x2":{"datum":100},"y":{"datum":-0.5}}},
{"data":{"name":"rows"},
 "mark":{"type":"point","shape":"square","filled":true,"size":88,"opacity":1,"strokeWidth":0},
 "encoding":{"x":{"datum":101.95},"y":{"field":"r","type":"quantitative"},
  "color":{"field":"g","type":"nominal","scale":{"domain":["m1","m2","m3","a1","w","a2","a3"],"range":["#12e012","#b4e38c","#1f971f","#14f2f2","#8080c0","#80ade2","#a0e3e3"]},"legend":null}}},
{"data":{"name":"rows"},"mark":{"type":"text","align":"left"},
 "encoding":{"x":{"datum":104.1},"y":{"field":"r","type":"quantitative"},"text":{"field":"id"}}},
{"data":{"name":"rows"},"mark":{"type":"text","align":"center"},
 "encoding":{"x":{"datum":121.0},"y":{"field":"r","type":"quantitative"},"text":{"field":"rc"}}},
{"data":{"name":"rows"},"mark":{"type":"text","align":"center"},
 "encoding":{"x":{"datum":131.0},"y":{"field":"r","type":"quantitative"},"text":{"field":"lk"}}},
{"data":{"name":"rows"},"mark":{"type":"text","align":"center"},
 "encoding":{"x":{"datum":141.5},"y":{"field":"r","type":"quantitative"},"text":{"field":"hv"}}},
{"data":{"name":"rows"},"mark":{"type":"text","align":"center"},
 "encoding":{"x":{"datum":154.2},"y":{"field":"r","type":"quantitative"},"text":{"field":"n"}}},
{"data":{"name":"rows"},"mark":{"type":"text","align":"left"},
 "encoding":{"x":{"datum":164.0},"y":{"field":"r","type":"quantitative"},"text":{"field":"ge"}}},
{"data":{"name":"rows"},"mark":{"type":"text","align":"left"},
 "encoding":{"x":{"datum":171.8},"y":{"field":"r","type":"quantitative"},"text":{"field":"sp"}}},
{"data":{"name":"rows"},"mark":{"type":"text","align":"left"},
 "encoding":{"x":{"datum":192.0},"y":{"field":"r","type":"quantitative"},"text":{"field":"bv"}}},
{"data":{"values":[{}]},"mark":{"type":"text","align":"left","text":"Strain id."},"encoding":{"x":{"datum":104.1},"y":{"datum":-1.35}}},
{"data":{"values":[{}]},"mark":{"type":"text","align":"left","text":"Ref.cluster"},"encoding":{"x":{"datum":116.1},"y":{"datum":-1.35}}},
{"data":{"values":[{}]},"mark":{"type":"text","align":"left","text":"Linked"},"encoding":{"x":{"datum":129.0},"y":{"datum":-1.35}}},
{"data":{"values":[{}]},"mark":{"type":"text","align":"left","text":"High.LogValue"},"encoding":{"x":{"datum":136.0},"y":{"datum":-1.35}}},
{"data":{"values":[{}]},"mark":{"type":"text","align":"left","text":"N identified"},"encoding":{"x":{"datum":150.4},"y":{"datum":-1.35}}},
{"data":{"values":[{}]},"mark":{"type":"text","align":"left","text":"Genus"},"encoding":{"x":{"datum":164.0},"y":{"datum":-1.35}}},
{"data":{"values":[{}]},"mark":{"type":"text","align":"left","text":"Species"},"encoding":{"x":{"datum":171.8},"y":{"datum":-1.35}}},
{"data":{"values":[{}]},"mark":{"type":"text","align":"left","text":"Biovar"},"encoding":{"x":{"datum":190.1},"y":{"datum":-1.35}}}
]
}
